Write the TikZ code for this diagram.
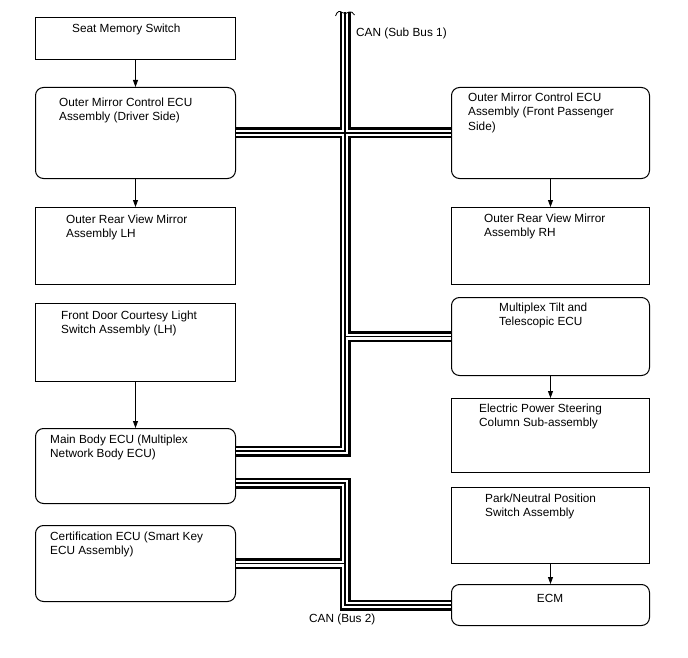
\documentclass[tikz,border=0pt]{standalone}
\usepackage{fontspec}
\setmainfont{Liberation Sans}
\usetikzlibrary{arrows.meta,calc}
\begin{document}
\begin{tikzpicture}[x=1pt,y=-1pt,
  box/.style 2 args={draw,line width=1pt,anchor=north west,inner sep=0pt,minimum width=#1,minimum height=#2},
  rbox/.style 2 args={box={#1}{#2},rounded corners=8pt},
  txt/.style={anchor=base west,inner sep=0pt,align=left,font=\fontsize{11.8}{14.3}\selectfont},
  arr/.style={-{Triangle[length=7pt,width=5pt]},line width=0.8pt},
  bus/.style={line width=11pt,line cap=butt,line join=miter,
    postaction={draw=white,line width=6pt,line cap=butt,line join=miter},
    postaction={draw=black,line width=1.2pt,line cap=butt,line join=miter}}]
\useasboundingbox (0,0) rectangle (688,658);
% boxes
\node[box={200pt}{42pt}] (seat) at (35,17) {};
\node[rbox={200pt}{91pt}] (drv) at (35,87) {};
\node[box={200pt}{77pt}] (lh) at (35,207) {};
\node[box={200pt}{78pt}] (fd) at (35,303) {};
\node[rbox={200pt}{75pt}] (mb) at (35,428) {};
\node[rbox={200pt}{76pt}] (cert) at (35,525) {};
\node[rbox={198pt}{91pt}] (pas) at (451,87) {};
\node[box={198pt}{77pt}] (rh) at (451,207) {};
\node[rbox={198pt}{78pt}] (tilt) at (451,297) {};
\node[box={198pt}{74pt}] (eps) at (451,398) {};
\node[box={198pt}{76pt}] (pn) at (451,487) {};
\node[rbox={198pt}{41pt}] (ecm) at (451,584) {};
% texts (anchor at baseline of the last line)
\node[txt] (seatT) at (72,33) {Seat Memory Switch};
\node[txt] (drvT) at (59,120.8) {Outer Mirror Control ECU\\Assembly (Driver Side)};
\node[txt] (lhT) at (66,237.3) {Outer Rear View Mirror\\Assembly LH};
\node[txt] (fdT) at (61,333.3) {Front Door Courtesy Light\\Switch Assembly (LH)};
\node[txt] (mbT) at (50,457.3) {Main Body ECU (Multiplex\\Network Body ECU)};
\node[txt] (certT) at (50,554.3) {Certification ECU (Smart Key\\ECU Assembly)};
\node[txt] (pasT) at (468,130.1) {Outer Mirror Control ECU\\Assembly (Front Passenger\\Side)};
\node[txt] (rhT) at (484,236.8) {Outer Rear View Mirror\\Assembly RH};
\node[txt] (tiltT) at (499,325.8) {Multiplex Tilt and\\Telescopic ECU};
\node[txt] (epsT) at (479,426.8) {Electric Power Steering\\Column Sub-assembly};
\node[txt] (pnT) at (485,516.3) {Park/Neutral Position\\Switch Assembly};
\node[txt,anchor=base] (ecmT) at (550,602) {ECM};
\node[txt] (can1) at (356,36.5) {CAN (Sub Bus 1)};
\node[txt] (can2) at (309,622.5) {CAN (Bus 2)};
% arrows
\draw[arr] (seat.south) -- (drv.north);
\draw[arr] (drv.south) -- (lh.north);
\draw[arr] (fd.south) -- (mb.north);
\draw[arr] (pas.south) -- (rh.north);
\draw[arr] (tilt.south) -- (eps.north);
\draw[arr] (pn.south) -- (ecm.north);
% buses
\coordinate (bt) at (345,12);
\coordinate (mbA) at ($(mb.north east)+(0,23)$);
\coordinate (mbB) at ($(mb.north east)+(0,55)$);
\draw[bus] (bt) -- (bt |- mbA) -- (mbA)
  (drv.east) -- (pas.west)
  (bt |- tilt.west) -- (tilt.west);
\draw[bus] (mbB) -- (bt |- mbB) -- (bt |- ecm.west) -- (ecm.west)
  (cert.east) -- (bt |- cert.east);
% break mark
\draw[line width=0.8pt] (335.5,16) .. controls (337,11) and (340,10.5) .. (342,12.5)
  .. controls (344,14) and (347,14) .. (349,12) .. controls (351,11) and (353,12.5) .. (354.5,15);
\end{tikzpicture}
\end{document}
